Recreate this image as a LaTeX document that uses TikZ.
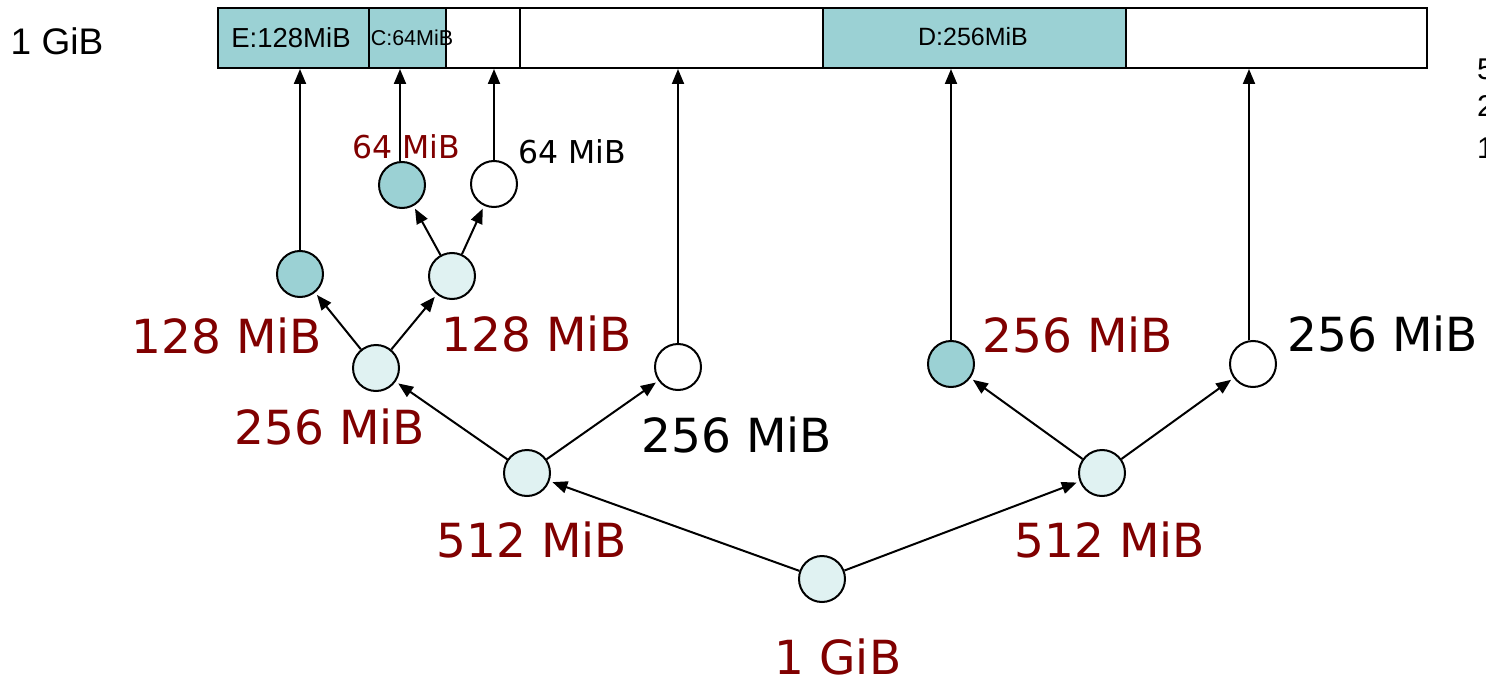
\documentclass[tikz,border=0pt]{standalone}
\usepackage{fontspec}
\setmainfont{DejaVu Sans}
\newfontfamily\arialf{Liberation Sans}
\usetikzlibrary{arrows.meta}
\definecolor{maroonred}{HTML}{800000}
\definecolor{tealfill}{HTML}{9BD1D4}
\definecolor{lightfill}{HTML}{E0F2F2}
\tikzset{
  vtx/.style={circle,draw=black,line width=2pt,minimum size=46pt,inner sep=0pt},
  used/.style={vtx,fill=tealfill},
  split/.style={vtx,fill=lightfill},
  free/.style={vtx,fill=white},
  seg/.style={draw=black,line width=2pt,minimum height=60pt,inner sep=0pt,anchor=west},
  big/.style={inner sep=0pt,font=\fontsize{47}{56}\selectfont},
  small/.style={inner sep=0pt,font=\fontsize{31.5}{38}\selectfont},
  redlbl/.style={text=maroonred},
  barlbl/.style={inner sep=0pt,font=\arialf\fontsize{27.5}{32}\selectfont},
  edgelbl/.style={inner sep=0pt,anchor=west,font=\arialf\fontsize{30}{34}\selectfont},
  arr/.style={line width=2pt,-{Triangle[length=15pt,width=12pt]}},
}
\begin{document}
\begin{tikzpicture}[x=1pt,y=-1pt]
\useasboundingbox (0,0) rectangle (1486,677);
\clip (0,0) rectangle (1486,677);
\fill[white] (0,0) rectangle (1486,677);
% memory bar
\node[seg,fill=tealfill,minimum width=151pt] (segE) at (217,38) {};
\node[seg,fill=tealfill,minimum width=77pt] (segC) at (368,38) {};
\node[seg,fill=white,minimum width=74pt] (segF1) at (445,38) {};
\node[seg,fill=white,minimum width=303pt] (segF2) at (519,38) {};
\node[seg,fill=tealfill,minimum width=303pt] (segD) at (822,38) {};
\node[seg,fill=white,minimum width=301pt] (segF3) at (1125,38) {};
\node[barlbl] (tE) at (291,38) {E:128MiB};
\node[barlbl,font=\arialf\fontsize{21.5}{25}\selectfont] (tC) at (412,38) {C:64MiB};
\node[barlbl,font=\arialf\fontsize{25}{30}\selectfont] (tD) at (973,37) {D:256MiB};
\node[inner sep=0pt,font=\arialf\fontsize{37}{42}\selectfont] (tTop) at (57,41) {1 GiB};
% clipped text at right edge
\node[edgelbl] (r1) at (1477,69) {5};
\node[edgelbl] (r2) at (1477,106) {2};
\node[edgelbl] (r3) at (1477,148) {1};
% tree
\node[split] (root) at (822,579) {};
\node[split] (a) at (527,473) {};
\node[split] (b) at (1102,473) {};
\node[split] (aa) at (376,368) {};
\node[free] (ab) at (678,367) {};
\node[used] (ba) at (951,364) {};
\node[free] (bb) at (1253,364) {};
\node[used] (aaa) at (300,274) {};
\node[split] (aab) at (452,276) {};
\node[used] (aaba) at (402,185) {};
\node[free] (aabb) at (494,184) {};
% tree edges
\draw[arr,shorten >=3pt] (root) -- (a);
\draw[arr,shorten >=3pt] (root) -- (b);
\draw[arr,shorten >=3pt] (a) -- (aa);
\draw[arr,shorten >=3pt] (a) -- (ab);
\draw[arr,shorten >=3pt] (b) -- (ba);
\draw[arr,shorten >=3pt] (b) -- (bb);
\draw[arr,shorten >=3pt] (aa) -- (aaa);
\draw[arr,shorten >=3pt] (aa) -- (aab);
\draw[arr,shorten >=3pt] (aab) -- (aaba);
\draw[arr,shorten >=3pt] (aab) -- (aabb);
% leaf to memory
\draw[arr] (aaa.north) -- (aaa.north |- segE.south);
\draw[arr] ([xshift=-2pt]aaba.north) -- ([xshift=-2pt]aaba.north |- segC.south);
\draw[arr] (aabb.north) -- (aabb.north |- segF1.south);
\draw[arr] (ab.north) -- (ab.north |- segF2.south);
\draw[arr] (ba.north) -- (ba.north |- segD.south);
\draw[arr] ([xshift=-4pt]bb.north) -- ([xshift=-4pt]bb.north |- segF3.south);
% labels
\node[big,redlbl] (lroot) at (838,657) {1 GiB};
\node[big,redlbl] (la) at (532,540) {512 MiB};
\node[big,redlbl] (lb) at (1110,540) {512 MiB};
\node[big,redlbl] (laa) at (330,427) {256 MiB};
\node[big] (lab) at (737,435) {256 MiB};
\node[big,redlbl] (lba) at (1078,335) {256 MiB};
\node[big] (lbb) at (1383,334) {256 MiB};
\node[big,redlbl] (laaa) at (227,336) {128 MiB};
\node[big,redlbl] (laab) at (537,334) {128 MiB};
\node[small,redlbl] (laaba) at (406,147) {64 MiB};
\node[small] (laabb) at (572,152) {64 MiB};
\end{tikzpicture}
\end{document}
